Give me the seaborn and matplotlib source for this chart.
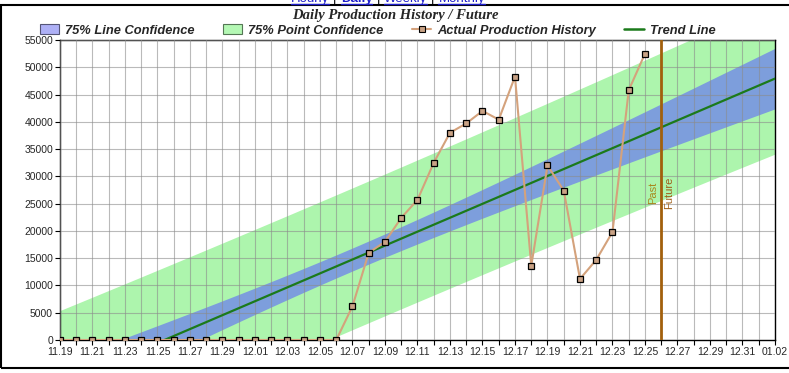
import matplotlib
matplotlib.use("Agg")
import matplotlib.pyplot as plt
import matplotlib.dates as mdates
from matplotlib.patches import Patch, Rectangle
from matplotlib.lines import Line2D
import numpy as np
import pandas as pd
import seaborn as sns

# daily production, 11.19 .. 12.25
start_date = "2006-11-19"
end_date = "2007-01-02"
production = [0, 0, 0, 0, 0, 0, 0, 0, 0, 0, 0, 0, 0, 0, 0, 0, 0, 0,
              6200, 16000, 18000, 22400, 25700, 32500, 38000, 39700, 42000,
              40400, 48300, 13600, 32000, 27400, 11200, 14700, 19800, 45800, 52500]
past_future_date = "2006-12-26"
confidence = 0.75
y_ticks = list(range(0, 55001, 5000))
legend_labels = ["75% Line Confidence", "75% Point Confidence",
                 "Actual Production History", "Trend Line"]
title = "Daily Production History / Future"
nav_links = ["Hourly", "Daily", "Weekly", "Monthly"]

dates = pd.date_range(start_date, periods=len(production), freq="D")
df = pd.DataFrame({"date": dates, "production": production})

# least squares trend with confidence / prediction bands
x = np.arange(len(production), dtype=float)
y = np.array(production, dtype=float)
n = len(x)
slope, intercept = np.polyfit(x, y, 1)
resid = y - (slope * x + intercept)
s = np.sqrt((resid ** 2).sum() / (n - 2))
try:
    from scipy import stats
    t_val = stats.t.ppf(0.5 + confidence / 2, n - 2)
except Exception:
    t_val = 1.17
sxx = ((x - x.mean()) ** 2).sum()
n_days = (pd.Timestamp(end_date) - pd.Timestamp(start_date)).days
xf = np.linspace(0, n_days, 300)
trend = slope * xf + intercept
lever = 1 / n + (xf - x.mean()) ** 2 / sxx
line_ci = t_val * s * np.sqrt(lever)
point_ci = t_val * s * np.sqrt(1 + lever)
xf_dates = pd.Timestamp(start_date) + pd.to_timedelta(xf, unit="D")

sns.set_style("white")
plt.rcParams["font.family"] = ["Liberation Sans", "DejaVu Sans"]

green_fill = "#adf5ad"
blue_fill = "#7d9edc"
tan = "#d4a27c"
trend_green = "#1b7a1b"

fig = plt.figure(figsize=(7.89, 3.73), dpi=100)
ax = fig.add_axes([60 / 789, 1 - 340 / 373, 715 / 789, 300 / 373])

ax.fill_between(xf_dates, trend - point_ci, trend + point_ci, color=green_fill, lw=0, zorder=1)
ax.fill_between(xf_dates, trend - line_ci, trend + line_ci, color=blue_fill, lw=0, zorder=1.2)
ax.plot(xf_dates, trend, color=trend_green, lw=1.6, zorder=3)

sns.lineplot(data=df, x="date", y="production", ax=ax, color=tan, lw=1.5,
             marker="s", markersize=5, markerfacecolor="#c9a285",
             markeredgecolor="black", markeredgewidth=0.9, zorder=4)

pf = pd.Timestamp(past_future_date)
ax.axvline(pf, color="#a2600c", lw=2, zorder=3.5)
ax.text(pf - pd.Timedelta(hours=12), 27000, "Past", rotation=90, ha="center", va="center",
        fontsize=8, color="#a8881c", zorder=5)
ax.text(pf + pd.Timedelta(hours=12), 27000, "Future", rotation=90, ha="center", va="center",
        fontsize=8, color="#a0601c", zorder=5)

ax.set_xlim(pd.Timestamp(start_date), pd.Timestamp(end_date))
ax.set_ylim(0, 55000)
ax.set_yticks(y_ticks)
ax.set_yticklabels([str(v) for v in y_ticks])
ax.set_xticks(pd.date_range(start_date, end_date, freq="2D"))
ax.set_xticks(pd.date_range(start_date, end_date, freq="D"), minor=True)
ax.xaxis.set_major_formatter(mdates.DateFormatter("%m.%d"))
ax.set_xlabel("")
ax.set_ylabel("")
ax.set_axisbelow(False)
ax.grid(True, which="both", axis="x", color="#8c8c8c", lw=0.8, alpha=0.6)
ax.grid(True, which="major", axis="y", color="#8c8c8c", lw=0.8, alpha=0.6)
ax.tick_params(axis="both", which="both", direction="out", length=3.5, width=0.8,
               color="black", labelsize=7.5, pad=1.5)
ax.tick_params(axis="both", which="both", bottom=True, left=True)
for sp in ax.spines.values():
    sp.set_visible(True)
    sp.set_color("black")
    sp.set_linewidth(1)

# legend
handles = [
    Patch(facecolor="#aeb0f6", edgecolor="#555577", lw=0.8),
    Patch(facecolor="#b4f8b4", edgecolor="#557755", lw=0.8),
    Line2D([0], [0], color=tan, lw=1.5, marker="s", markersize=5,
           markerfacecolor="#c9a285", markeredgecolor="black", markeredgewidth=0.8),
    Line2D([0], [0], color=trend_green, lw=1.8),
]
fig.legend(handles, legend_labels, ncol=4, loc="center left",
           bbox_to_anchor=(40 / 789, 1 - 30.5 / 373), frameon=False,
           borderpad=0, borderaxespad=0, handlelength=1.5, handleheight=0.8,
           handletextpad=0.45, columnspacing=2.2,
           prop={"weight": "bold", "style": "italic", "size": 9.3})

fig.text(395 / 789, 1 - 16 / 373, title, ha="center", va="center",
         family=["Liberation Serif", "DejaVu Serif"], weight="bold", style="italic",
         fontsize=10.5)

# outer frame and clipped navigation links
fig.add_artist(Rectangle((1 / 789, 1 - 368 / 373), 1.2, 363 / 373, transform=fig.transFigure,
                         fill=False, edgecolor="black", lw=1.5))
renderer = fig.canvas.get_renderer()
cursor = 291
for i, name in enumerate(nav_links):
    t = fig.text(cursor / 789, 1 - 2 / 373, name, ha="left", va="baseline",
                 fontsize=9.5, color="#1f1fcc",
                 weight="bold" if name == "Daily" else "normal")
    bb = t.get_window_extent(renderer)
    fig.add_artist(Line2D([bb.x0 / 789, bb.x1 / 789], [1 - 3.5 / 373, 1 - 3.5 / 373],
                          transform=fig.transFigure, color="#1f1fcc", lw=1))
    cursor = bb.x1 + 4
    if i < len(nav_links) - 1:
        sep = fig.text(cursor / 789, 1 - 2 / 373, "|", ha="left", va="baseline",
                       fontsize=9.5, color="black")
        cursor = sep.get_window_extent(renderer).x1 + 4

fig.savefig("out.png", dpi=100)
